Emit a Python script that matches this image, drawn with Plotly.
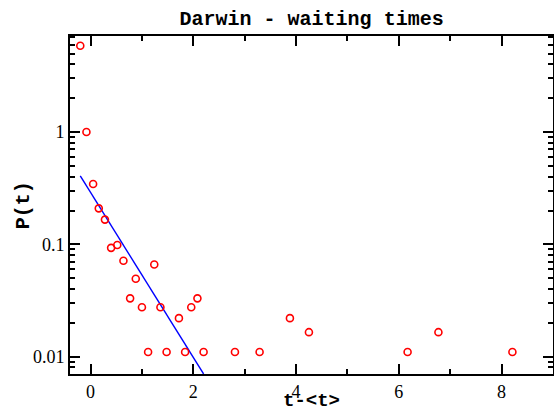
import plotly.graph_objects as go

# Data
t_shift = [-0.20, -0.08, 0.05, 0.16, 0.28, 0.40, 0.52, 0.64, 0.77, 0.88, 1.00,
           1.12, 1.24, 1.36, 1.48, 1.72, 1.84, 1.96, 2.08, 2.20, 2.81, 3.29,
           3.88, 4.25, 6.17, 6.77, 8.21]
p_t = [5.87, 1.0, 0.344, 0.209, 0.166, 0.093, 0.0986, 0.0714, 0.033, 0.0494, 0.0275,
       0.011, 0.066, 0.0275, 0.011, 0.022, 0.011, 0.0275, 0.033, 0.011, 0.011, 0.011,
       0.022, 0.0165, 0.011, 0.0165, 0.011]

fit_x = [-0.20, 2.20]
fit_y = [0.406, 0.0070]

x_tickvals = [0, 2, 4, 6, 8]
y_tickvals = [0.01, 0.1, 1]
y_ticktext = ["0.01", "0.1", "1"]

title_text = "Darwin - waiting times"
x_label = "t-<t>"
y_label = "P(t)"

mono = "Liberation Mono, Courier New, monospace"
serif = "Liberation Serif, Times New Roman, serif"

fig = go.Figure()
fig.add_trace(go.Scatter(x=fit_x, y=fit_y, mode="lines",
                         line=dict(color="#0000ff", width=1.4), showlegend=False))
fig.add_trace(go.Scatter(x=t_shift, y=p_t, mode="markers",
                         marker=dict(symbol="circle-open", size=7, color="#ff0000",
                                     line=dict(width=1.6, color="#ff0000")),
                         showlegend=False))

fig.update_layout(
    width=554, height=411,
    margin=dict(l=70, r=1, t=36, b=37),
    paper_bgcolor="white", plot_bgcolor="white",
    title=dict(text="<b>" + title_text + "</b>", x=0.5625, xanchor="center",
               y=0.955, yanchor="middle", font=dict(family=mono, size=20, color="black")),
    annotations=[
        dict(text="<b>" + x_label.replace("<", "&lt;").replace(">", "&gt;") + "</b>",
             xref="paper", yref="paper", x=0.5, y=-0.081, xanchor="center",
             yanchor="middle", showarrow=False, borderpad=0,
             font=dict(family=mono, size=19, color="black")),
        dict(text="<b>" + y_label + "</b>", xref="paper", yref="paper",
             x=-0.097, y=0.5, xanchor="center", yanchor="middle", textangle=-90,
             showarrow=False, font=dict(family=mono, size=20, color="black")),
    ],
)
fig.update_xaxes(
    range=[-0.4, 9], tickvals=x_tickvals, ticks="inside", ticklen=10, tickwidth=1.5,
    tickcolor="black", showline=True, linecolor="black", linewidth=2, mirror="allticks",
    showgrid=False, zeroline=False, automargin=False, ticklabelstandoff=0,
    minor=dict(ticks="inside", ticklen=5, tickwidth=1.5, tickcolor="black", dtick=1,
               showgrid=False),
    tickfont=dict(family=serif, size=18, color="black"),
)
fig.update_yaxes(
    type="log", range=[-2.155, 0.855], tickvals=y_tickvals, ticktext=y_ticktext,
    ticks="inside", ticklen=10, tickwidth=1.5, tickcolor="black",
    showline=True, linecolor="black", linewidth=2, mirror="allticks",
    showgrid=False, zeroline=False, automargin=False, ticklabelstandoff=0,
    minor=dict(ticks="inside", ticklen=5, tickwidth=1.5, tickcolor="black", dtick="D1",
               showgrid=False),
    tickfont=dict(family=serif, size=18, color="black"),
)

fig.write_html("out.html", config={"displayModeBar": False},
               post_script="document.body.style.margin='0';document.body.style.overflow='hidden';")
